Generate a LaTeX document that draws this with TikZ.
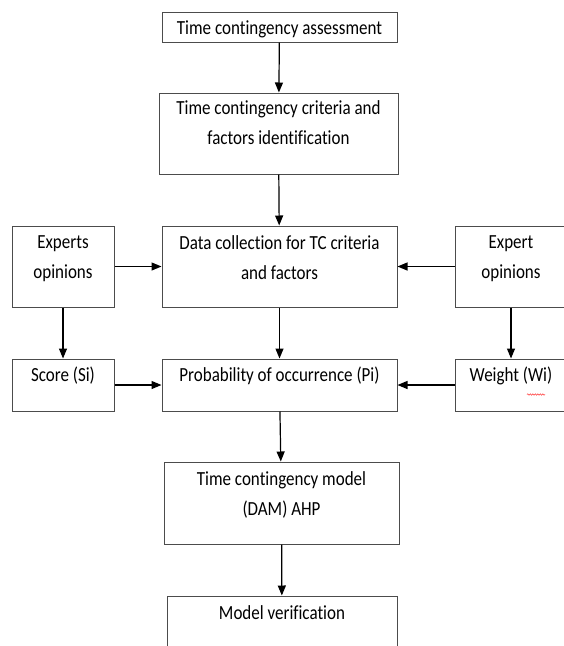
\documentclass[tikz,border=0pt]{standalone}
\usepackage{fontspec}
\setmainfont{Carlito}[FakeStretch=0.85, Ligatures=NoCommon]
\usetikzlibrary{arrows.meta,positioning,decorations.pathmorphing}

\tikzset{
  blk/.style={draw=black!70, line width=1pt, inner sep=0pt},
  lbl/.style={anchor=north, inner sep=0pt, align=center, font=\fontsize{20}{30}\selectfont},
  flow/.style={->, line width=1.2pt},
  squig/.style={red!80, line width=0.5pt, decorate, decoration={snake, amplitude=0.7pt, segment length=2.5pt}},
}

\begin{document}
\begin{tikzpicture}[x=1pt,y=1pt,>={Triangle[length=10pt,width=8pt]}]
  \useasboundingbox (0,0) rectangle (564,-646);
  \clip (0,0) rectangle (564,-646);
  % middle column
  \node[blk, minimum width=235pt, minimum height=30pt] (assess) at (279.5,-27) {};
  \node[blk, minimum width=239pt, minimum height=81pt] (ident) at (278.5,-133.5) {};
  \node[blk, minimum width=235pt, minimum height=81pt] (data) at (279.5,-266.5) {};
  \node[blk, minimum width=235pt, minimum height=52pt] (prob) at (279.5,-385) {};
  \node[blk, minimum width=235pt, minimum height=82pt] (model) at (281.5,-503) {};
  \node[blk, minimum width=230pt, minimum height=80pt] (verif) at (282,-636) {};
  % side columns
  \node[blk, minimum width=102pt, minimum height=81pt] (expl) at (63,-266.5) {};
  \node[blk, minimum width=102pt, minimum height=52pt] (score) at (63,-385) {};
  \node[blk, minimum width=112pt, minimum height=81pt] (expr) at (511,-266.5) {};
  \node[blk, minimum width=112pt, minimum height=52pt] (weight) at (511,-385) {};

  % texts
  \node[lbl, below=9pt of assess.north] (assesstxt) {Time contingency assessment};
  \node[lbl, below=8pt of ident.north] (identtxt) {Time contingency criteria and\\factors identification};
  \node[lbl, below=10pt of data.north] (datatxt) {Data collection for TC criteria\\and factors};
  \node[lbl, below=8pt of prob.north] (probtxt) {Probability of occurrence (Pi)};
  \node[lbl, below=10pt of model.north] (modeltxt) {Time contingency model\\(DAM) AHP};
  \node[lbl, below=10pt of verif.north] (veriftxt) {Model verification};
  \node[lbl, below=10pt of expl.north] (expltxt) {Experts\\opinions};
  \node[lbl, below=8pt of score.north] (scoretxt) {Score (Si)};
  \node[lbl, below=10pt of expr.north] (exprtxt) {Expert\\opinions};
  \node[lbl, below=8pt of weight.north] (weighttxt) {Weight (Wi)};
  \draw[squig] ([xshift=16pt,yshift=-36pt]weight.north) -- ([xshift=34pt,yshift=-36pt]weight.north);

  % connectors
  \draw[flow] (assess) -- (ident);
  \draw[flow] (ident) -- (data);
  \draw[flow] (data) -- (prob);
  \draw[flow] (prob) -- (model);
  \draw[flow] (model) -- (verif);
  \draw[flow] (expl) -- (data);
  \draw[flow] (expr) -- (data);
  \draw[flow] (expl) -- (score);
  \draw[flow] (expr) -- (weight);
  \draw[flow] (score) -- (prob);
  \draw[flow] (weight) -- (prob);
\end{tikzpicture}
\end{document}
